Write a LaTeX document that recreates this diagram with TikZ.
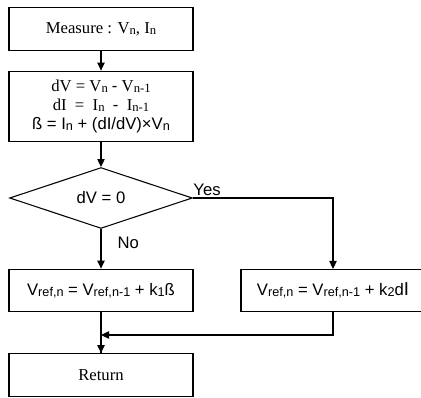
\documentclass[tikz,border=0pt]{standalone}
\usepackage{fontspec}
\setmainfont{Liberation Serif}
\setsansfont{Liberation Sans}
\usetikzlibrary{shapes.geometric,arrows.meta}
\newcommand{\sbs}[1]{\raisebox{-0.15ex}{\fontsize{9.5}{9.5}\selectfont #1}}
\begin{document}
\begin{tikzpicture}[x=0.75pt,y=-0.75pt,
  line width=0.8pt,
  box/.style={draw, line width=0.8pt, minimum width=138pt, minimum height=32pt, inner sep=0pt, align=center, font=\fontsize{12.5}{14.25}\selectfont},
  sbox/.style={box, font=\fontsize{12.5}{14.25}\sffamily},
  dec/.style={draw, diamond, line width=0.8pt, minimum width=137pt, minimum height=45pt, inner sep=0pt, font=\fontsize{12.5}{14.25}\sffamily},
  lbl/.style={inner sep=0pt, font=\fontsize{12.5}{14.25}\sffamily},
  arr/.style={-{Triangle[length=6pt,width=5.5pt]}, line width=0.8pt}]
\useasboundingbox (0,0) rectangle (421,398);
\clip (0,0) rectangle (421,398);
\node[box] (meas) at (101,29) {Measure : V\sbs{n}, I\sbs{n}};
\node[box, minimum height=53pt] (calc) at (101,106.5) {dV = V\sbs{n} {\sffamily -} V\sbs{n-1}\\
dI ~=~ I\sbs{n} ~{\sffamily -}~ I\sbs{n-1}\\
{\sffamily ß = I\sbs{n} + (dI/dV)×V\sbs{n}}};
\node[dec] (dv) at (101,198) {dV = 0};
\node[sbox] (left) at (101,290.5) {V\sbs{ref,n} = V\sbs{ref,n-1} + k\sbs{1}ß};
\node[sbox, minimum width=150pt] (right) at (341,290.5) {\hspace*{-12pt}V\sbs{ref,n} = V\sbs{ref,n-1} + k\sbs{2}d{\fontsize{14}{14}\selectfont I}};
\node[box] (ret) at (101,375) {Return};
\coordinate (top) at (333,198);
\coordinate (rin) at (333,269);
\coordinate (rout) at (333,312);
\coordinate (rjoin) at (333,335);
\coordinate (join) at (101,335);
\draw[arr] (meas) -- (calc);
\draw[arr] (calc) -- (dv);
\draw[arr] (dv.south) -- node[lbl, pos=0.35, right=12pt] {No} (left.north);
\draw[arr] (dv.east) -- (top) -- (rin);
\node[lbl, anchor=south west] (yes) at ([yshift=1pt]dv.east) {Yes};
\draw (left.south) -- (ret.north);
\draw[arr] (rout) -- (rjoin) -- (join);
\draw[arr] (join) -- (ret.north);
\end{tikzpicture}
\end{document}
